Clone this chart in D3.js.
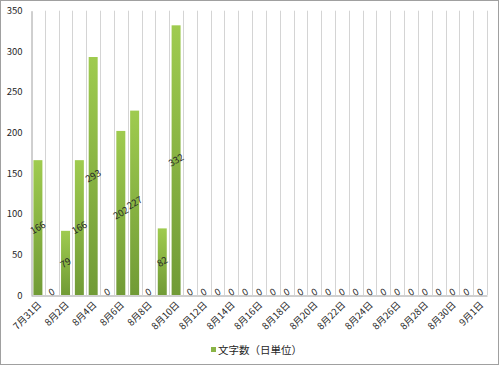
<!DOCTYPE html>
<html><head><meta charset="utf-8">
<script src="https://cdn.jsdelivr.net/npm/d3@7"></script>
<style>body{margin:0;background:#fff}svg{display:block}</style>
</head><body>
<script>
const categories = ["7月31日","8月1日","8月2日","8月3日","8月4日","8月5日","8月6日","8月7日","8月8日","8月9日","8月10日","8月11日","8月12日","8月13日","8月14日","8月15日","8月16日","8月17日","8月18日","8月19日","8月20日","8月21日","8月22日","8月23日","8月24日","8月25日","8月26日","8月27日","8月28日","8月29日","8月30日","8月31日","9月1日"];
const values = [166,0,79,166,293,0,202,227,0,82,332,0,0,0,0,0,0,0,0,0,0,0,0,0,0,0,0,0,0,0,0,0,0];
const yTicks = [0,50,100,150,200,250,300,350];
const seriesName = "文字数（日単位）";

const W=500,H=367;
const m={left:31,right:13,top:10.7,bottom:72};
const svg=d3.select("body").append("svg").attr("width",W).attr("height",H);
const font='"Noto Sans CJK JP", sans-serif';
const tc="#262626";
svg.append("rect").attr("x",0.5).attr("y",0.5).attr("width",W-2).attr("height",H-3).attr("fill","#fff").attr("stroke","#a0a0a0");

const defs=svg.append("defs");
const g=defs.append("linearGradient").attr("id","bg").attr("x1",0).attr("y1",0).attr("x2",0).attr("y2",1);
g.append("stop").attr("offset","0%").attr("stop-color","#9fcb4f");
g.append("stop").attr("offset","100%").attr("stop-color","#719b36");

const x=d3.scaleBand().domain(categories).range([m.left,W-m.right]).paddingInner(0.35).paddingOuter(0.175);
const xb=d3.scaleBand().domain(categories).range([m.left,W-m.right]);
const y=d3.scaleLinear().domain([0,350]).range([H-m.bottom,m.top]);

const bounds=categories.map(c=>xb(c)).concat([xb.range()[1]]);
svg.append("g").selectAll("line").data(bounds.slice(1)).join("line")
  .attr("x1",d=>Math.round(d)+0.5).attr("x2",d=>Math.round(d)+0.5)
  .attr("y1",y(350)).attr("y2",y(0)).attr("stroke","#d4d4d4").attr("stroke-width",1);

const ya=svg.append("g").attr("transform",`translate(${m.left+0.5},0)`)
  .call(d3.axisLeft(y).tickValues(yTicks).tickSize(0).tickPadding(9));
ya.select(".domain").attr("stroke","#a0a0a0");
ya.selectAll("text").attr("font-family",font).attr("font-size",9.5).attr("fill",tc);

svg.append("g").selectAll("rect").data(values).join("rect")
  .attr("x",(d,i)=>x(categories[i])).attr("width",x.bandwidth())
  .attr("y",d=>y(d)).attr("height",d=>y(0)-y(d)).attr("fill","url(#bg)");

const xa=svg.append("g").attr("transform",`translate(0,${y(0)+0.5})`)
  .call(d3.axisBottom(xb).tickValues(categories.filter((c,i)=>i%2===0)).tickSize(0).tickPadding(0));
xa.select(".domain").attr("stroke","#a0a0a0");
xa.selectAll("text").attr("font-family",font).attr("font-size",9.5).attr("fill",tc)
  .attr("text-anchor","end").attr("dy",0).attr("transform","translate(4,10) rotate(-45)");

svg.append("g").selectAll("text").data(values).join("text")
  .attr("transform",(d,i)=>`translate(${xb(categories[i])+xb.bandwidth()/2},${d===0?y(0)-3:y(d/2)}) rotate(-30)`)
  .attr("text-anchor","middle").attr("dy","0.35em")
  .attr("font-family",font).attr("font-size",9.5).attr("fill",tc)
  .text(d=>d);

const lg=svg.append("g").attr("transform","translate(211,350)");
lg.append("rect").attr("x",0).attr("y",-3).attr("width",5).attr("height",5).attr("fill","#8ab446");
lg.append("text").attr("x",7).attr("y",0).attr("dy","0.35em").attr("font-family",font).attr("font-size",10.5).attr("fill",tc).text(seriesName);
</script>
</body></html>
